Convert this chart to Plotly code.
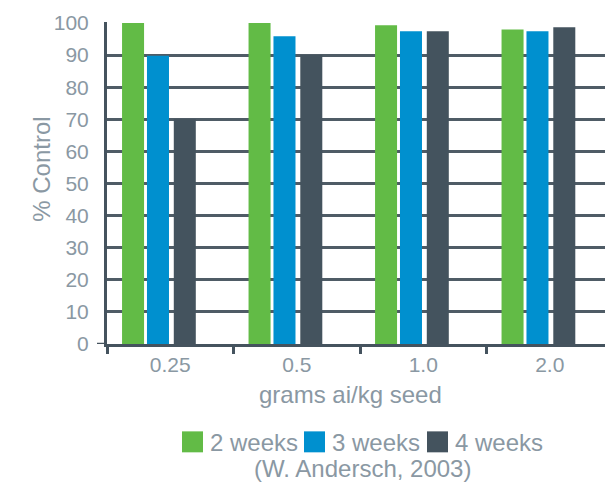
import plotly.graph_objects as go

categories = ["0.25", "0.5", "1.0", "2.0"]
series_names = ["2 weeks", "3 weeks", "4 weeks"]
week2 = [100, 100, 99.3, 98.0]
week3 = [89.8, 95.9, 97.4, 97.4]
week4 = [70, 90, 97.4, 98.7]
y_ticks = list(range(0, 101, 10))

values = [week2, week3, week4]
colors = ["#62bb46", "#0090cf", "#44535e"]
offsets = [-0.381, -0.184, 0.028]
bar_w = 0.174

TEXT = "#8a98a3"
DARK = "#45535e"
FONT = "Liberation Sans, Arial, Helvetica, sans-serif"

# page body margin offset
OFF = 8
CAT_PX = 126.5          # width of one category in pixels
EXTRA = 16              # plot area runs past the right window edge
W, H = 613 - OFF + EXTRA, 486 - OFF
ML, MR, MT = 107 - OFF, 0, 22 - OFF
PLOT_BOTTOM = 344.5 - OFF
MB = H - PLOT_BOTTOM
PW, PH = W - ML - MR, PLOT_BOTTOM - MT
X_MAX = -0.5 + PW / CAT_PX


def px_x(p):
    # p: pixel x in reference window coordinates
    return (p - OFF - ML) / PW


def px_y(p):
    return (PLOT_BOTTOM - (p - OFF)) / PH


fig = go.Figure()
for name, vals, col, off in zip(series_names, values, colors, offsets):
    fig.add_trace(go.Bar(
        x=categories, y=vals, name=name, marker=dict(color=col, line=dict(width=0)),
        offset=off, width=bar_w, showlegend=False,
    ))

# custom legend (large square keys)
legend_x = [182, 304, 427]
key = 21
key_top = 432
shapes = []
annotations = []
for name, col, lx in zip(series_names, colors, legend_x):
    shapes.append(dict(type="rect", xref="paper", yref="paper",
                       x0=px_x(lx), x1=px_x(lx + key),
                       y0=px_y(key_top + key), y1=px_y(key_top),
                       fillcolor=col, line=dict(width=0)))
    annotations.append(dict(text=name, xref="paper", yref="paper",
                            x=px_x(lx + key + 5), y=px_y(key_top + key / 2 + 1),
                            xanchor="left", yanchor="middle", showarrow=False,
                            font=dict(size=24, color=TEXT, family=FONT)))

# small tick left of zero
shapes.append(dict(type="line", xref="paper", yref="y",
                   x0=px_x(97), x1=0, y0=0, y1=0,
                   line=dict(color=DARK, width=2.5)))

annotations.append(dict(text="grams ai/kg seed", xref="paper", yref="paper",
                        x=px_x(350), y=px_y(395), xanchor="center", yanchor="middle",
                        showarrow=False, font=dict(size=24, color=TEXT, family=FONT)))
annotations.append(dict(text="(W. Andersch, 2003)", xref="paper", yref="paper",
                        x=px_x(362), y=px_y(469), xanchor="center", yanchor="middle",
                        showarrow=False, font=dict(size=24, color=TEXT, family=FONT)))
annotations.append(dict(text="% Control", xref="paper", yref="paper",
                        x=px_x(42), y=px_y(170), xanchor="center", yanchor="middle",
                        textangle=-90, showarrow=False,
                        font=dict(size=24, color=TEXT, family=FONT)))

fig.update_layout(
    width=W, height=H,
    margin=dict(l=ML, r=MR, t=MT, b=MB, pad=0),
    paper_bgcolor="white", plot_bgcolor="white",
    barmode="overlay",
    font=dict(family=FONT, color=TEXT),
    shapes=shapes, annotations=annotations,
    showlegend=False,
)
fig.update_xaxes(
    type="category", range=[-0.5, X_MAX],
    showline=True, linecolor=DARK, linewidth=3, layer="above traces",
    ticks="outside", tickson="boundaries", ticklen=7, tickwidth=2.5, tickcolor=DARK,
    showgrid=False, zeroline=False,
    tickfont=dict(size=21, color=TEXT, family=FONT),
)
fig.update_yaxes(
    range=[0, 100.3], tickvals=y_ticks,
    showline=True, linecolor=DARK, linewidth=3,
    showgrid=True, gridcolor="#4f5c66", gridwidth=2.5,
    zeroline=False, ticks="", ticklabelstandoff=11,
    tickfont=dict(size=21, color=TEXT, family=FONT),
)

fig.write_html("out.html")
